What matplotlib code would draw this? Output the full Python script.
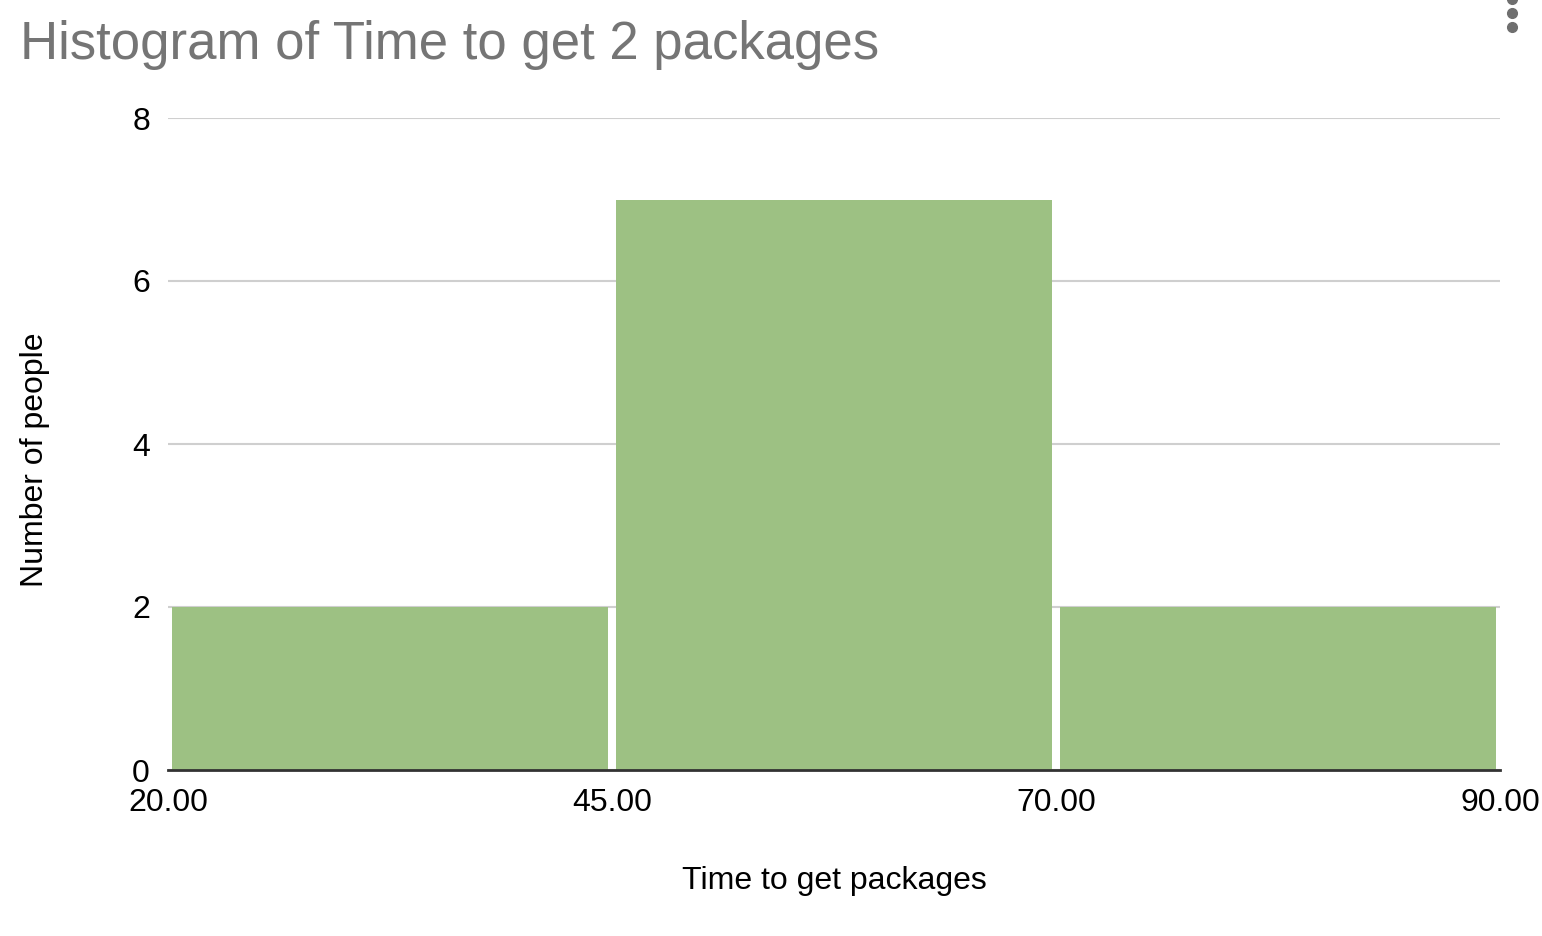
"""Histogram of time to get 2 packages, equal-width bins drawn as categories."""
import matplotlib.pyplot as plt
import matplotlib.lines as mlines

plt.rcParams.update(
    {
        "font.family": ["Liberation Sans", "DejaVu Sans"],
        "axes.spines.top": False,
        "axes.spines.right": False,
        "axes.spines.left": False,
    }
)

bin_labels = ["20.00", "45.00", "70.00", "90.00"]
counts = [2, 7, 2]
y_ticks = [0, 2, 4, 6, 8]

BAR_COLOR = "#9dc183"
GRID_COLOR = "#cfcfcf"
TITLE_COLOR = "#757575"

fig = plt.figure(figsize=(15.42, 9.36), dpi=100)
ax = fig.add_axes([168 / 1542, 1 - 770 / 936, 1332 / 1542, 652 / 936])

centers = [i + 0.5 for i in range(len(counts))]
ax.bar(centers, counts, width=0.98, color=BAR_COLOR, edgecolor="none", zorder=2)

ax.set_xlim(0, len(counts))
ax.set_ylim(0, 8)
ax.set_xticks(range(len(bin_labels)))
ax.set_xticklabels(bin_labels, fontsize=23)
ax.set_yticks(y_ticks)
ax.set_yticklabels([str(v) for v in y_ticks], fontsize=23)
ax.tick_params(axis="x", length=0, pad=13)
ax.tick_params(axis="y", length=0, pad=13)
ax.yaxis.grid(True, color=GRID_COLOR, lw=1.5, zorder=0)
ax.set_axisbelow(True)
ax.spines["bottom"].set_color("#333333")
ax.spines["bottom"].set_linewidth(2)
ax.spines["bottom"].set_zorder(3)

ax.set_xlabel("Time to get packages", fontsize=23)
ax.set_ylabel("Number of people", fontsize=23)
ax.xaxis.set_label_coords(0.5, -(881 - 770) / 652)
ax.yaxis.set_label_coords(-(168 - 35) / 1332, (770 - 460) / 652)
ax.xaxis.label.set_va("center")
ax.yaxis.label.set_va("center")

fig.text(20 / 1542, 1 - 45 / 936, "Histogram of Time to get 2 packages",
         fontsize=38, color=TITLE_COLOR, va="center", ha="left")

# menu dots at top right
for yy in [1 - -1 / 936, 1 - 13 / 936, 1 - 27 / 936]:
    fig.add_artist(mlines.Line2D([1512 / 1542], [yy], marker="o", markersize=7,
                                 color="#6f6f6f", linestyle="none"))

fig.savefig("out.png", dpi=100)
